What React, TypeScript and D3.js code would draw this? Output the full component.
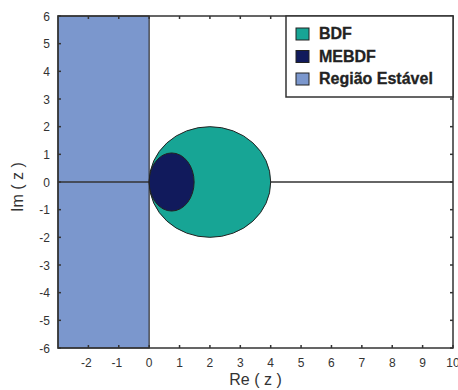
import React from 'react';
import * as d3 from 'd3';

// axis ranges and ticks
const xDomain = [-3, 10];
const yDomain = [-6, 6];
const xTicks = [-2, -1, 0, 1, 2, 3, 4, 5, 6, 7, 8, 9, 10];
const yTicks = [-6, -5, -4, -3, -2, -1, 0, 1, 2, 3, 4, 5, 6];

// stable region (left half plane) and the two stability regions
const stableRegion = { x0: -3, x1: 0, y0: -6, y1: 6 };
const bdfRegion = { cx: 2, cy: 0, rx: 2, ry: 2 };
const mebdfRegion = { cx: 0.74, cy: 0, rx: 0.74, ry: 1.05 };

const legendLabels = ['BDF', 'MEBDF', 'Região Estável'];
const legendColors = ['#17a595', '#111a5c', '#7b97cd'];

export default function App() {
    const width = 458;
    const height = 390;
    const margin = { top: 16, right: 5, bottom: 42, left: 58 };
    const innerW = width - margin.left - margin.right;
    const innerH = height - margin.top - margin.bottom;

    const x = d3.scaleLinear().domain(xDomain).range([margin.left, margin.left + innerW]);
    const y = d3.scaleLinear().domain(yDomain).range([margin.top + innerH, margin.top]);

    const font = 'Arial, "Liberation Sans", sans-serif';
    const axisColor = '#333';
    const tickLen = 3;
    const digitW = 6.7;

    const ellipse = (r: { cx: number; cy: number; rx: number; ry: number }, fill: string) => (
        <ellipse
            cx={x(r.cx)}
            cy={y(r.cy)}
            rx={x(r.cx + r.rx) - x(r.cx)}
            ry={y(r.cy) - y(r.cy + r.ry)}
            fill={fill}
            stroke="#222"
            strokeWidth={1}
        />
    );

    const legX = 286;
    const legY = margin.top;
    const legW = x(xDomain[1]) - legX;
    const legH = 81;

    return (
        <div style={{ position: 'absolute', left: 0, top: 0 }}>
            <svg width={width} height={height} style={{ display: 'block', fontFamily: font }}>
                <rect x={0} y={0} width={width} height={height} fill="#fff" />
                {/* stable region */}
                <rect
                    x={x(stableRegion.x0)}
                    y={y(stableRegion.y1)}
                    width={x(stableRegion.x1) - x(stableRegion.x0)}
                    height={y(stableRegion.y0) - y(stableRegion.y1)}
                    fill={legendColors[2]}
                    stroke={axisColor}
                    strokeWidth={1.2}
                />
                {/* real axis */}
                <line x1={x(xDomain[0])} x2={x(xDomain[1])} y1={y(0)} y2={y(0)} stroke={axisColor} strokeWidth={1.5} />
                {ellipse(bdfRegion, legendColors[0])}
                {ellipse(mebdfRegion, legendColors[1])}

                {/* frame */}
                <rect x={margin.left} y={margin.top} width={innerW} height={innerH} fill="none" stroke={axisColor} strokeWidth={1.5} />
                {xTicks.map(t => (
                    <g key={'x' + t}>
                        <line x1={x(t)} x2={x(t)} y1={y(yDomain[0])} y2={y(yDomain[0]) - tickLen} stroke={axisColor} strokeWidth={1.5} />
                        <line x1={x(t)} x2={x(t)} y1={y(yDomain[1])} y2={y(yDomain[1]) + tickLen} stroke={axisColor} strokeWidth={1.5} />
                        <text
                            x={x(t) + (String(Math.abs(t)).length * digitW) / 2}
                            y={y(yDomain[0]) + 19}
                            textAnchor="end"
                            fontSize={12}
                            fill="#333"
                        >{t}</text>
                    </g>
                ))}
                {yTicks.map(t => (
                    <g key={'y' + t}>
                        <line x1={x(xDomain[0])} x2={x(xDomain[0]) + tickLen} y1={y(t)} y2={y(t)} stroke={axisColor} strokeWidth={1.5} />
                        <line x1={x(xDomain[1])} x2={x(xDomain[1]) - tickLen} y1={y(t)} y2={y(t)} stroke={axisColor} strokeWidth={1.5} />
                        <text x={margin.left - 8} y={y(t) + 4.5} textAnchor="end" fontSize={12} fill="#333">{t}</text>
                    </g>
                ))}

                {/* axis titles */}
                <text x={(x(xDomain[0]) + x(xDomain[1])) / 2} y={385} textAnchor="middle" fontSize={16} fill="#333">Re ( z )</text>
                <text transform={`translate(23, ${y(0) + 5}) rotate(-90)`} textAnchor="middle" fontSize={16} fill="#333">Im ( z )</text>

                {/* legend */}
                <rect x={legX} y={legY} width={legW} height={legH} fill="#fff" stroke={axisColor} strokeWidth={1.5} />
                {legendLabels.map((l, i) => (
                    <g key={l} transform={`translate(${legX + 10}, ${legY + 23 + i * 22.5})`}>
                        <rect x={0} y={-11} width={13} height={12} fill={legendColors[i]} stroke="#222" strokeWidth={1} />
                        <text x={23} y={0} fontSize={16} fontWeight="bold" fill="#222" stroke="#222" strokeWidth={0.3}>{l}</text>
                    </g>
                ))}
            </svg>
        </div>
    );
}
